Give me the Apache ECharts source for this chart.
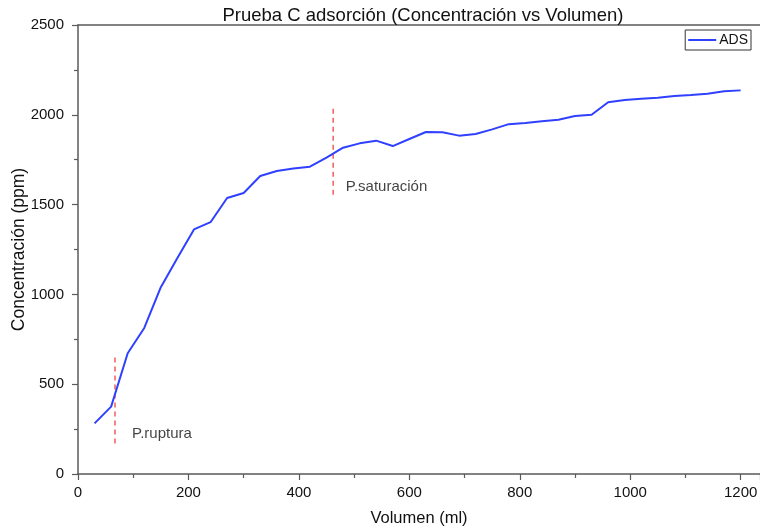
<!DOCTYPE html>
<html>
<head>
<meta charset="utf-8">
<script src="https://cdn.jsdelivr.net/npm/echarts@6/dist/echarts.min.js"></script>
<style>
  html, body { margin: 0; padding: 0; background: #fff; }
  #chart { width: 760px; height: 529px; }
</style>
</head>
<body>
<div id="chart"></div>
<script>
// Volume (ml) and adsorption concentration (ppm)
const volumen = [30, 60, 90, 120, 150, 180, 210, 240, 270, 300, 330, 360, 390, 420, 450, 480, 510, 540, 570, 600,
                 630, 660, 690, 720, 750, 780, 810, 840, 870, 900, 930, 960, 990, 1020, 1050, 1080, 1110, 1140, 1170, 1200];
const concentracion = [282, 375, 672, 813, 1040, 1203, 1362, 1402, 1537, 1565, 1659, 1687, 1701, 1711, 1762, 1817, 1841, 1856, 1826, 1865,
                       1904, 1903, 1884, 1893, 1919, 1948, 1954, 1964, 1973, 1993, 2000, 2070, 2082, 2090, 2095, 2105, 2110, 2117, 2131, 2136];

// Breakthrough and saturation markers: x position and vertical extent (ppm)
const rupturaX = 67;
const rupturaRango = [170, 665];
const saturacionX = 462;
const saturacionRango = [1555, 2050];

// Annotation anchor points [ml, ppm]
const etiquetaRuptura = [98, 223];
const etiquetaSaturacion = [485, 1598];

const xTicks = [0, 200, 400, 600, 800, 1000, 1200];
const yTicks = [0, 500, 1000, 1500, 2000, 2500];

const FONT = '"Liberation Sans", Arial, sans-serif';
const AXIS_COLOR = '#5a5a5a';
const TEXT_COLOR = '#111';

const chart = echarts.init(document.getElementById('chart'), null, { renderer: 'canvas' });

const redLine = (x, r) => ({
  type: 'line',
  data: [[x, r[0]], [x, r[1]]],
  symbol: 'none',
  silent: true,
  lineStyle: { color: '#ee3333', width: 1.2, type: [5, 4] },
  z: 1
});

const textMark = (p, txt) => ({
  type: 'scatter',
  data: [p],
  symbolSize: 0,
  silent: true,
  label: {
    show: true,
    position: 'right',
    distance: 0,
    formatter: txt,
    fontFamily: FONT,
    fontSize: 15,
    color: TEXT_COLOR
  }
});

chart.setOption({
  animation: false,
  backgroundColor: '#fff',
  title: {
    text: 'Prueba C adsorción (Concentración vs Volumen)',
    left: 418,
    textAlign: 'center',
    top: 1,
    textStyle: { fontFamily: FONT, fontSize: 18.5, fontWeight: 'normal', color: TEXT_COLOR }
  },
  legend: {
    data: ['ADS'],
    right: 9,
    top: 30,
    itemWidth: 28,
    itemHeight: 2,
    itemGap: 4,
    padding: [3, 3, 3, 3],
    borderColor: '#333',
    borderWidth: 1,
    icon: 'rect',
    textStyle: { fontFamily: FONT, fontSize: 14, color: TEXT_COLOR, padding: [0, 0, 0, -2] }
  },
  grid: { left: 78, right: 0, top: 25, bottom: 55, containLabel: false, outerBoundsMode: 'none' },
  xAxis: [{
    type: 'value',
    min: xTicks[0],
    max: 1235,
    interval: 200,
    name: 'Volumen (ml)',
    nameLocation: 'middle',
    nameGap: 36,
    nameTextStyle: { fontFamily: FONT, fontSize: 16.5, color: TEXT_COLOR },
    axisLine: { show: true, lineStyle: { color: AXIS_COLOR, width: 1.5 } },
    axisTick: { show: true, inside: false, length: 6, lineStyle: { color: AXIS_COLOR, width: 1.2 } },
    minorTick: { show: true, splitNumber: 2, length: 4, lineStyle: { color: AXIS_COLOR, width: 1.2 } },
    splitLine: { show: false },
    axisLabel: {
      fontFamily: FONT, fontSize: 15, color: TEXT_COLOR, margin: 11,
      showMaxLabel: false,
      formatter: v => (xTicks.includes(v) ? String(v) : '')
    }
  }, {
    type: 'value',
    position: 'top',
    min: xTicks[0],
    max: 1235,
    axisLine: { show: true, lineStyle: { color: AXIS_COLOR, width: 1.5 } },
    axisTick: { show: false },
    axisLabel: { show: false },
    splitLine: { show: false }
  }],
  yAxis: {
    type: 'value',
    min: yTicks[0],
    max: yTicks[yTicks.length - 1],
    interval: 500,
    offset: 3,
    name: 'Concentración (ppm)',
    nameLocation: 'middle',
    nameGap: 47,
    nameMoveOverlap: false,
    nameTextStyle: { fontFamily: FONT, fontSize: 17.5, color: TEXT_COLOR },
    axisLine: { show: true, lineStyle: { color: AXIS_COLOR, width: 1.5 } },
    axisTick: { show: true, inside: false, length: 6, lineStyle: { color: AXIS_COLOR, width: 1.2 } },
    minorTick: { show: true, splitNumber: 2, length: 4, lineStyle: { color: AXIS_COLOR, width: 1.2 } },
    splitLine: { show: false },
    axisLabel: {
      fontFamily: FONT, fontSize: 15, color: TEXT_COLOR, margin: 11,
      formatter: v => String(v)
    }
  },
  series: [
    {
      name: 'ADS',
      type: 'line',
      data: volumen.map((v, i) => [v, concentracion[i]]),
      symbol: 'none',
      color: '#3040ff',
      lineStyle: { color: '#3040ff', width: 2 },
      z: 3
    },
    redLine(rupturaX, rupturaRango),
    redLine(saturacionX, saturacionRango),
    textMark(etiquetaRuptura, 'P.ruptura'),
    textMark(etiquetaSaturacion, 'P.saturación')
  ]
});
</script>
</body>
</html>
